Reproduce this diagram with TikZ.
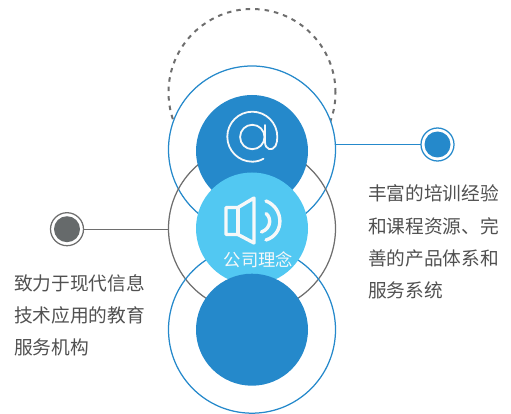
\documentclass[tikz,border=0pt]{standalone}
\usepackage{fontspec}
\setmainfont{Noto Sans CJK SC}
\definecolor{deepblue}{HTML}{2589CB}
\definecolor{skyblue}{HTML}{52C8F2}
\definecolor{ringgray}{HTML}{6E6E6E}
\definecolor{dotgray}{HTML}{666A6B}
\definecolor{bodytext}{HTML}{505050}
\definecolor{iconwhite}{HTML}{F6F8F9}
\tikzset{
  every node/.style={inner sep=0pt,outer sep=0pt},
  ring/.style={circle,minimum size=167pt,line width=1.25pt},
  disk/.style={circle,minimum size=112pt},
  dothalo/.style={circle,minimum size=33pt,fill=white,line width=1.25pt},
  dotcore/.style={circle,minimum size=26pt},
  body/.style={anchor=west,text=bodytext,font=\fontsize{18.7pt}{22pt}\selectfont},
  icon/.style={draw=iconwhite,line join=round,line cap=round},
}
\begin{document}
\begin{tikzpicture}[x=1pt,y=-1pt]
\useasboundingbox (0,0) rectangle (511,414);
% rings
\node[ring,draw=ringgray,line width=2pt,dash pattern=on 4.5pt off 5pt] (dashring) at (252,92.5) {};
\node[ring,draw=deepblue,fill=white] (ringtop) at (252,149.5) {};
\node[ring,draw=ringgray] (ringmid) at (252,228.5) {};
\node[ring,draw=deepblue] (ringbot) at (252,329.7) {};
% disks
\node[disk,fill=deepblue] (disktop) at (252,151) {};
\node[disk,fill=skyblue] (diskmid) at (252,228.5) {};
\node[disk,fill=deepblue] (diskbot) at (252,329.7) {};
% side dots
\node[dothalo,draw=deepblue] (dotright) at (437.5,144.5) {};
\node[dotcore,fill=deepblue] (corer) at (437.5,144.5) {};
\node[dothalo,draw=ringgray] (dotleft) at (67,229.2) {};
\node[dotcore,fill=dotgray] (corel) at (67,229.2) {};
% connectors
\draw[deepblue,line width=1.25pt] (dotright.west) -- (dotright.west -| ringtop.east);
\draw[ringgray,line width=1.25pt] (dotleft.east) -- (dotleft.east -| ringmid.west);
% at sign
\draw[icon,line width=1.8pt] (252.3,137) circle[radius=12.2];
\draw[icon,line width=1.8pt] (265,125) -- (265,142)
  .. controls (265,150) and (272.5,151.5) .. (275.5,146)
  .. controls (277,143) and (277.3,140) .. (277.3,136.7)
  .. controls (277.3,122.9) and (266.1,111.7) .. (252.3,111.7)
  .. controls (238.5,111.7) and (227.3,122.9) .. (227.3,136.7)
  .. controls (227.3,150.5) and (238.5,161.7) .. (252.3,161.7)
  .. controls (256.5,161.7) and (260.5,160.5) .. (263.5,158.7);
% speaker
\draw[icon,line width=3.4pt] (226,207.5) -- (238,207.5) -- (254,198) -- (254,243) -- (238,234.5) -- (226,234.5) -- cycle;
\draw[icon,line width=3.4pt] (238,207.5) -- (238,234.5);
\draw[icon,line width=3.4pt] (266,213.5) .. controls (271,217) and (272,228) .. (261.5,232);
\draw[icon,line width=3.4pt] (266,201) .. controls (284,208) and (285,234) .. (266,240);
\node[text=iconwhite,font=\fontsize{17.3pt}{20pt}\selectfont] (label) at (258.5,260) {公司理念};
% texts
\node[body] (lt1) at (14,283) {致力于现代信息};
\node[body] (lt2) at (14,315) {技术应用的教育};
\node[body] (lt3) at (14,347) {服务机构};
\node[body] (rt1) at (368,193) {丰富的培训经验};
\node[body] (rt2) at (368,226) {和课程资源、完};
\node[body] (rt3) at (368,258) {善的产品体系和};
\node[body] (rt4) at (368,290) {服务系统};
\end{tikzpicture}
\end{document}
